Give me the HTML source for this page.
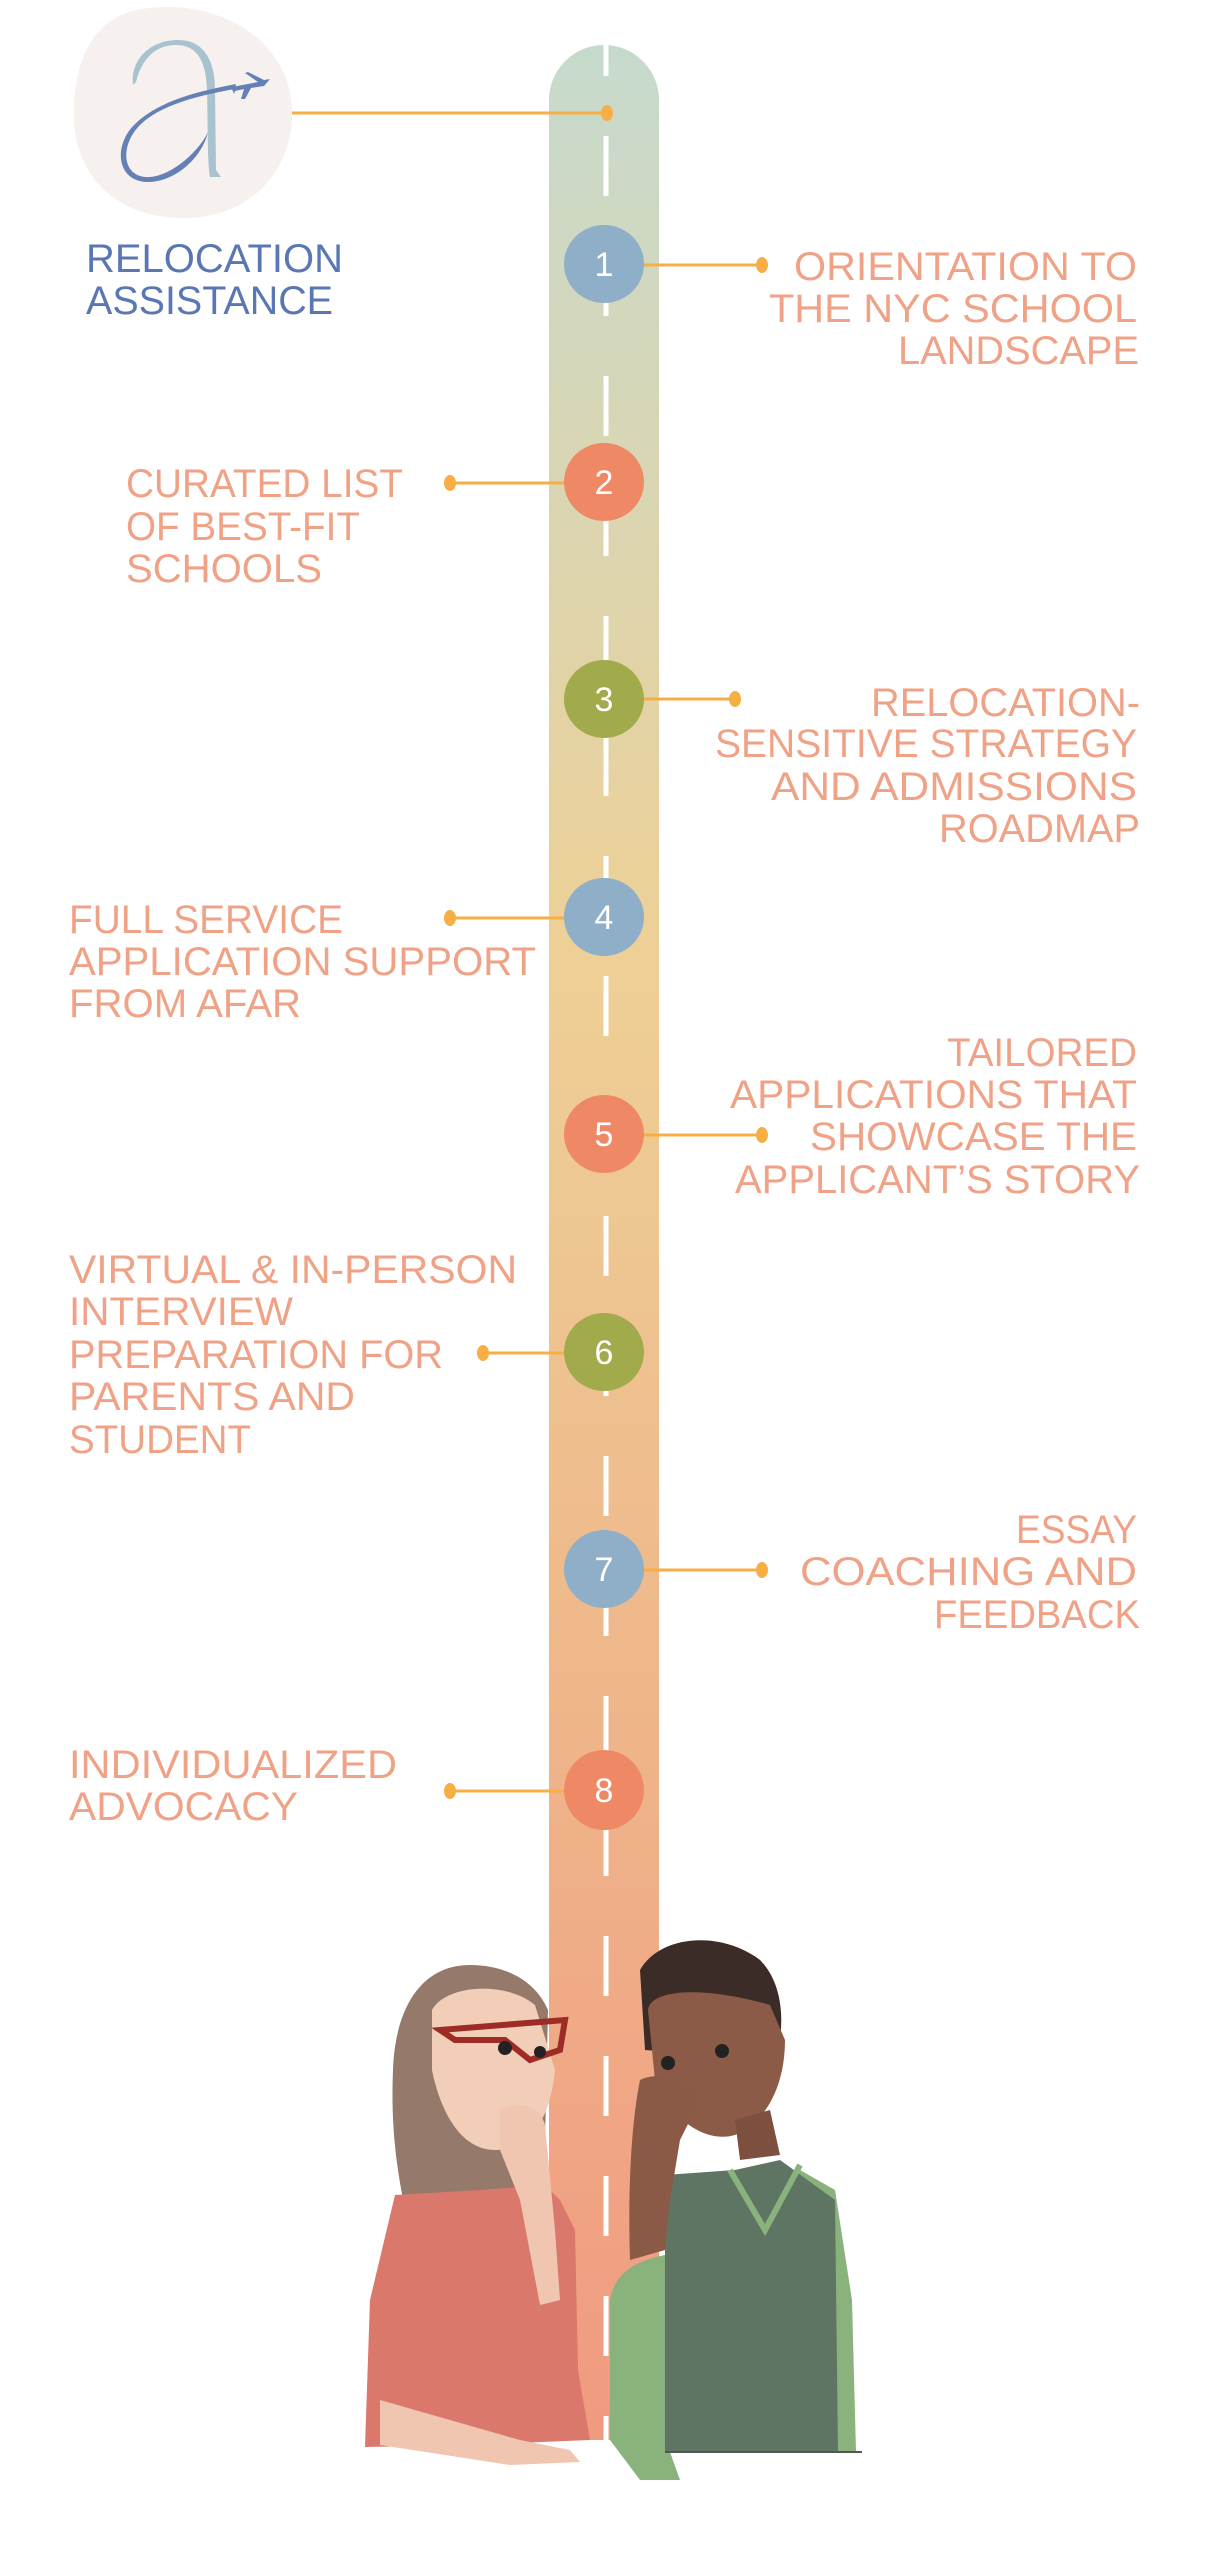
<!DOCTYPE html>
<html><head><meta charset="utf-8"><style>
html,body{margin:0;padding:0;background:#fff;}
svg{display:block;}
.t{font-family:"Liberation Sans",sans-serif;font-size:40px;fill:#f0a287;}
.n{font-family:"Liberation Sans",sans-serif;font-size:34px;fill:#fff;text-anchor:middle;}
</style></head><body>
<svg width="1209" height="2560" viewBox="0 0 1209 2560" xmlns="http://www.w3.org/2000/svg">
<defs>
<linearGradient id="rg" x1="0" y1="0" x2="0" y2="1">
<stop offset="0" stop-color="#c6dacd"/>
<stop offset="0.38" stop-color="#eed096"/>
<stop offset="0.7" stop-color="#efb58a"/>
<stop offset="1" stop-color="#f09a80"/>
</linearGradient>
<clipPath id="rc"><path d="M549 100 A55 55 0 0 1 659 100 L659 2440 L549 2440 Z"/></clipPath>
</defs>
<path d="M549 100 A55 55 0 0 1 659 100 L659 2440 L549 2440 Z" fill="url(#rg)"/>
<g clip-path="url(#rc)">
<line x1="606" y1="16" x2="606" y2="2440" stroke="#fff" stroke-width="5" stroke-dasharray="60 60"/>
</g>
<!-- logo -->
<path d="M150 8 C220 0 290 40 292 110 C294 170 250 220 180 218 C110 216 72 170 74 110 C75 50 100 12 150 8 Z" fill="#f6f1ef"/>
<path d="M133 85 C130 60 150 40 178 40 C205 40 215 62 215 90 L216 170 L221 177 L210 177 C207 160 208 120 207 90 C206 62 198 45 176 45 C156 45 142 58 136 82 Z" fill="#a8c3cf"/>
<path d="M235 89 C200 95 160 105 140 125 C120 145 122 175 145 177 C170 179 200 150 208 132 C202 158 175 182 148 182 C116 182 113 145 135 124 C160 100 200 91 236 84 Z" fill="#6580b5"/>
<path d="M232 87 L258 82 L245 73 L248 72 L264 80 L270 79 L264 86 L251 88 L245 99 L241 99 L244 89 L235 91 L234 94 L232 89 Z" fill="#6580b5"/>
<text x="86" y="272" style="font-family:'Liberation Sans',sans-serif;font-size:40px;fill:#5a77b3" textLength="257" lengthAdjust="spacingAndGlyphs">RELOCATION</text>
<text x="86" y="314" style="font-family:'Liberation Sans',sans-serif;font-size:40px;fill:#5a77b3" textLength="247" lengthAdjust="spacingAndGlyphs">ASSISTANCE</text>
<g stroke="#f7ae45" stroke-width="3" fill="#f7ae45">
<line x1="292" y1="113" x2="606" y2="113"/><ellipse cx="607" cy="113" rx="6" ry="8" stroke="none"/>
<line x1="640" y1="265" x2="762" y2="265"/><ellipse cx="762" cy="265" rx="6" ry="8" stroke="none"/>
<line x1="450" y1="483" x2="570" y2="483"/><ellipse cx="450" cy="483" rx="6" ry="8" stroke="none"/>
<line x1="640" y1="699" x2="735" y2="699"/><ellipse cx="735" cy="699" rx="6" ry="8" stroke="none"/>
<line x1="450" y1="918" x2="570" y2="918"/><ellipse cx="450" cy="918" rx="6" ry="8" stroke="none"/>
<line x1="640" y1="1135" x2="762" y2="1135"/><ellipse cx="762" cy="1135" rx="6" ry="8" stroke="none"/>
<line x1="483" y1="1353" x2="570" y2="1353"/><ellipse cx="483" cy="1353" rx="6" ry="8" stroke="none"/>
<line x1="640" y1="1570" x2="762" y2="1570"/><ellipse cx="762" cy="1570" rx="6" ry="8" stroke="none"/>
<line x1="450" y1="1791" x2="570" y2="1791"/><ellipse cx="450" cy="1791" rx="6" ry="8" stroke="none"/>
</g>
<ellipse cx="604" cy="264" rx="40" ry="39" fill="#8fafc8"/><text class="n" x="604" y="276">1</text>
<ellipse cx="604" cy="482" rx="40" ry="39" fill="#ef8865"/><text class="n" x="604" y="494">2</text>
<ellipse cx="604" cy="699" rx="40" ry="39" fill="#a2ab4c"/><text class="n" x="604" y="711">3</text>
<ellipse cx="604" cy="917" rx="40" ry="39" fill="#8fafc8"/><text class="n" x="604" y="929">4</text>
<ellipse cx="604" cy="1134" rx="40" ry="39" fill="#ef8865"/><text class="n" x="604" y="1146">5</text>
<ellipse cx="604" cy="1352" rx="40" ry="39" fill="#a2ab4c"/><text class="n" x="604" y="1364">6</text>
<ellipse cx="604" cy="1569" rx="40" ry="39" fill="#8fafc8"/><text class="n" x="604" y="1581">7</text>
<ellipse cx="604" cy="1790" rx="40" ry="40" fill="#ef8865"/><text class="n" x="604" y="1802">8</text>
<g class="t">
<text x="794" y="280" textLength="343" lengthAdjust="spacingAndGlyphs">ORIENTATION TO</text>
<text x="769" y="322" textLength="368" lengthAdjust="spacingAndGlyphs">THE NYC SCHOOL</text>
<text x="898" y="364" textLength="241" lengthAdjust="spacingAndGlyphs">LANDSCAPE</text>
<text x="126" y="497" textLength="277" lengthAdjust="spacingAndGlyphs">CURATED LIST</text>
<text x="126" y="540" textLength="234" lengthAdjust="spacingAndGlyphs">OF BEST-FIT</text>
<text x="126" y="582" textLength="196" lengthAdjust="spacingAndGlyphs">SCHOOLS</text>
<text x="871" y="716" textLength="269" lengthAdjust="spacingAndGlyphs">RELOCATION-</text>
<text x="715" y="757" textLength="422" lengthAdjust="spacingAndGlyphs">SENSITIVE STRATEGY</text>
<text x="771" y="800" textLength="366" lengthAdjust="spacingAndGlyphs">AND ADMISSIONS</text>
<text x="939" y="842" textLength="201" lengthAdjust="spacingAndGlyphs">ROADMAP</text>
<text x="69" y="933" textLength="274" lengthAdjust="spacingAndGlyphs">FULL SERVICE</text>
<text x="69" y="975" textLength="467" lengthAdjust="spacingAndGlyphs">APPLICATION SUPPORT</text>
<text x="69" y="1017" textLength="232" lengthAdjust="spacingAndGlyphs">FROM AFAR</text>
<text x="947" y="1066" textLength="190" lengthAdjust="spacingAndGlyphs">TAILORED</text>
<text x="730" y="1108" textLength="407" lengthAdjust="spacingAndGlyphs">APPLICATIONS THAT</text>
<text x="810" y="1150" textLength="327" lengthAdjust="spacingAndGlyphs">SHOWCASE THE</text>
<text x="735" y="1193" textLength="405" lengthAdjust="spacingAndGlyphs">APPLICANT’S STORY</text>
<text x="69" y="1283" textLength="448" lengthAdjust="spacingAndGlyphs">VIRTUAL &amp; IN-PERSON</text>
<text x="69" y="1325" textLength="224" lengthAdjust="spacingAndGlyphs">INTERVIEW</text>
<text x="69" y="1368" textLength="374" lengthAdjust="spacingAndGlyphs">PREPARATION FOR</text>
<text x="69" y="1410" textLength="286" lengthAdjust="spacingAndGlyphs">PARENTS AND</text>
<text x="69" y="1453" textLength="182" lengthAdjust="spacingAndGlyphs">STUDENT</text>
<text x="1016" y="1543" textLength="121" lengthAdjust="spacingAndGlyphs">ESSAY</text>
<text x="800" y="1585" textLength="337" lengthAdjust="spacingAndGlyphs">COACHING AND</text>
<text x="934" y="1628" textLength="206" lengthAdjust="spacingAndGlyphs">FEEDBACK</text>
<text x="69" y="1778" textLength="328" lengthAdjust="spacingAndGlyphs">INDIVIDUALIZED</text>
<text x="69" y="1820" textLength="229" lengthAdjust="spacingAndGlyphs">ADVOCACY</text>
</g>
<!-- woman -->
<path d="M470 1965 C420 1965 395 2010 393 2070 C390 2140 400 2200 420 2265 L470 2270 L545 2140 L548 2010 C535 1980 505 1965 470 1965 Z" fill="#95796a"/>
<path d="M432 2010 C445 1985 505 1980 535 2005 L555 2070 C550 2120 530 2150 495 2150 C460 2150 440 2110 432 2070 Z" fill="#f2cdb8"/>
<path d="M440 2030 L565 2020 L560 2050 L530 2060 L505 2040 L455 2040 Z" fill="none" stroke="#9e2c26" stroke-width="6"/>
<circle cx="505" cy="2048" r="7" fill="#222"/><circle cx="540" cy="2052" r="6" fill="#222"/>
<path d="M480 2190 L545 2185 L560 2200 L575 2230 L578 2370 L590 2440 L470 2445 L365 2447 L370 2300 L395 2195 Z" fill="#d9786b"/>
<path d="M500 2110 C515 2100 540 2105 545 2125 L555 2230 L560 2300 L540 2305 L520 2200 L500 2150 Z" fill="#f0c6b0"/>
<path d="M380 2400 L520 2440 L570 2450 L580 2462 L510 2465 L380 2445 Z" fill="#f0c6b0"/>
<!-- man -->
<path d="M640 1970 C660 1935 720 1930 760 1960 C785 1985 785 2030 775 2060 L645 2050 Z" fill="#3b2c27"/>
<path d="M648 2010 C650 1990 700 1985 770 2005 L785 2040 C785 2080 770 2120 735 2135 C700 2145 665 2110 655 2080 Z" fill="#8c5b48"/>
<path d="M735 2120 L740 2160 L780 2155 L770 2110 Z" fill="#7d4f3f"/>
<circle cx="668" cy="2063" r="7" fill="#222"/><circle cx="722" cy="2051" r="7" fill="#222"/>
<path d="M610 2300 C615 2270 640 2260 665 2255 L670 2452 L680 2480 L640 2480 L610 2440 Z" fill="#8ab27c"/>
<path d="M800 2170 L835 2190 L852 2300 L856 2452 L820 2452 L790 2200 Z" fill="#8ab27c"/>
<path d="M665 2175 L735 2170 L780 2160 L835 2200 L838 2452 L665 2452 Z" fill="#5f7563"/>
<path d="M730 2170 L765 2230 L800 2165" fill="none" stroke="#8ab27c" stroke-width="6"/>
<path d="M640 2080 C660 2070 690 2080 700 2100 L680 2140 L670 2200 L665 2250 L630 2260 C628 2200 630 2130 640 2080 Z" fill="#8a5a47"/>
<line x1="665" y1="2452" x2="862" y2="2452" stroke="#555" stroke-width="2"/>
</svg>
</body></html>
